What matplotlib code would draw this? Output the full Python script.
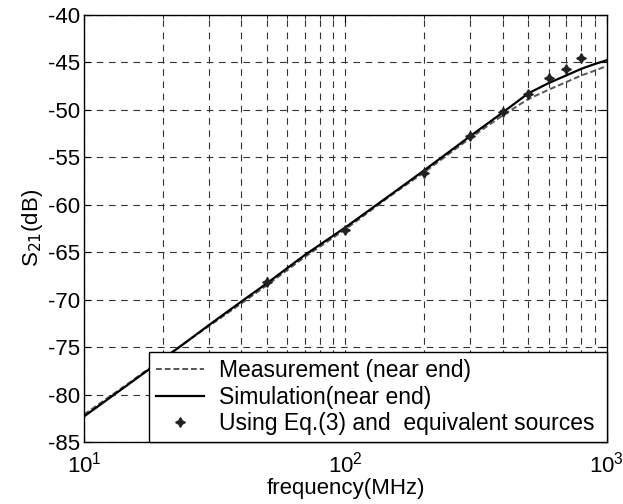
import numpy as np
import matplotlib.pyplot as plt

plt.rcParams['font.family'] = ['Liberation Sans', 'DejaVu Sans']
plt.rcParams['axes.unicode_minus'] = False

# -------- datos --------
f_curva = [10, 15, 20, 30, 40, 50, 70, 100, 150, 200, 300, 400, 500, 600, 700, 800, 900, 1000]
s21_simu = [-82.3, -78.8, -76.3, -72.7, -70.2, -68.3, -65.3, -62.4, -58.9, -56.4,
            -52.8, -50.3, -48.3, -47.2, -46.4, -45.7, -45.2, -44.8]
s21_medida = [-82.1, -78.7, -76.2, -72.8, -70.4, -68.5, -65.5, -62.6, -59.0, -56.6,
              -53.0, -50.6, -48.9, -47.9, -47.1, -46.4, -45.9, -45.4]

f_eq = [50, 100, 200, 300, 400, 500, 600, 700, 800]
s21_eq = [-68.2, -62.7, -56.7, -52.8, -50.3, -48.4, -46.7, -45.7, -44.6]

fig = plt.figure(figsize=(6.23, 5.04), dpi=100)
ax = fig.add_axes([0.135, 0.123, 0.839, 0.848])

ax.semilogx(f_curva, s21_medida, color='#555555', linestyle=(0, (3, 1.5)), linewidth=1.4,
            label='Measurement (near end)')
ax.semilogx(f_curva, s21_simu, color='black', linewidth=1.6, label='Simulation(near end)')
ax.semilogx(f_eq, s21_eq, linestyle='none', marker=(4, 1, 0), markersize=7, color='#222222',
            label='Using Eq.(3) and  equivalent sources')

ax.set_xlim(10, 1000)
ax.set_ylim(-85, -40)
ax.set_yticks(np.arange(-85, -39, 5))

ax.grid(True, which='major', axis='y', color='#333333', linestyle=(0, (6, 5)), linewidth=0.8)
ax.grid(True, which='both', axis='x', color='#333333', linestyle=(0, (6, 5)), linewidth=0.8)

ax.tick_params(which='both', direction='in', top=True, right=True, labelsize=16)
ax.tick_params(which='major', length=5, pad=3)
ax.tick_params(axis='x', which='major', pad=7)
ax.tick_params(which='minor', length=3)
for s in ax.spines.values():
    s.set_linewidth(1.0)

ax.set_xlabel('frequency(MHz)', fontsize=16, labelpad=0)
ax.set_ylabel(r'S$_{21}$(dB)', fontsize=16, labelpad=2)

# caja de la leyenda ocupa desde 0.125 hasta el borde derecho
leg = ax.legend(loc='lower left', bbox_to_anchor=(0.125, 0.0, 0.875, 0.2), mode='expand',
                borderaxespad=0, fontsize=16.5, fancybox=False, framealpha=1, edgecolor='black',
                handlelength=2.1, handletextpad=0.65, labelspacing=0.15, borderpad=0.3)
leg.get_frame().set_linewidth(1.0)

plt.savefig('out.png', dpi=100)
